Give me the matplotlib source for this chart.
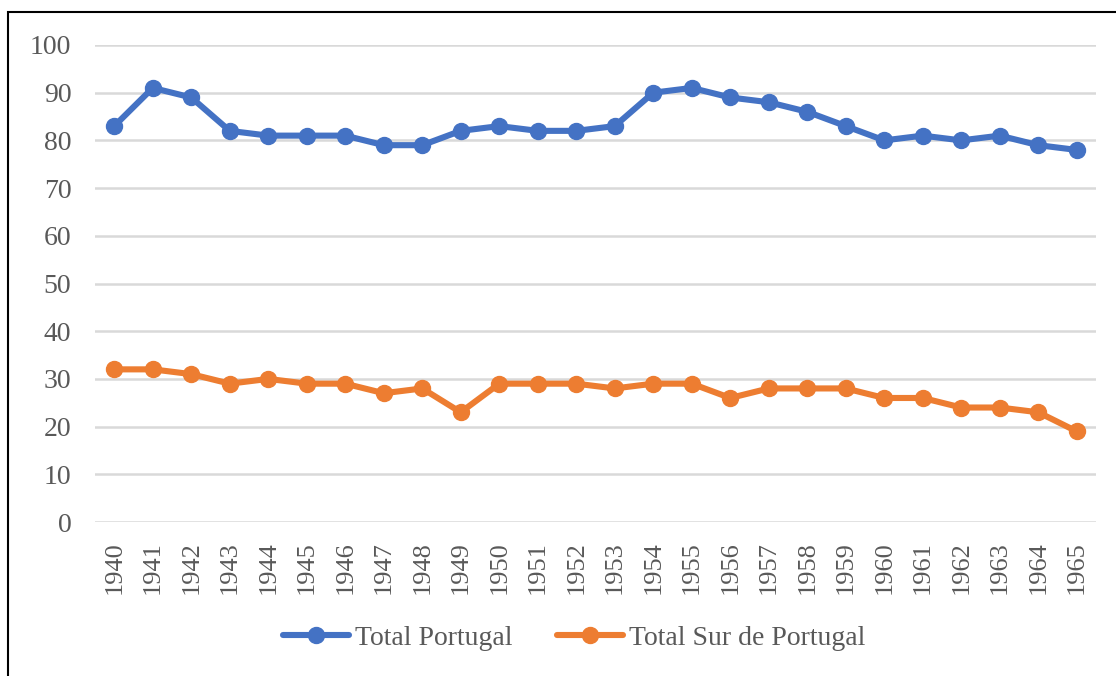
import matplotlib.pyplot as plt
from matplotlib.patches import Rectangle

years = list(range(1940, 1966))
total_portugal = [83, 91, 89, 82, 81, 81, 81, 79, 79, 82, 83, 82, 82, 83,
                  90, 91, 89, 88, 86, 83, 80, 81, 80, 81, 79, 78]
total_sur = [32, 32, 31, 29, 30, 29, 29, 27, 28, 23, 29, 29, 29, 28,
             29, 29, 26, 28, 28, 28, 26, 26, 24, 24, 23, 19]
y_ticks = list(range(0, 101, 10))

plt.rcParams['font.family'] = ['Liberation Serif', 'DejaVu Serif']

fig = plt.figure(figsize=(11.16, 6.76), dpi=100)
ax = fig.add_axes([95 / 1116, 1 - 522 / 676, (1096 - 95) / 1116, (522 - 45) / 676])

x = list(range(len(years)))
ax.plot(x, total_portugal, color='#4472C4', linewidth=4.4, marker='o',
        markersize=11.5, label='Total Portugal', solid_capstyle='round', zorder=3)
ax.plot(x, total_sur, color='#ED7D31', linewidth=4.4, marker='o',
        markersize=11.5, label='Total Sur de Portugal', solid_capstyle='round', zorder=3)

ax.set_xlim(-0.5, len(years) - 0.5)
ax.set_ylim(0, 100)
ax.set_yticks(y_ticks)
ax.set_xticks(x)
ax.set_xticklabels([str(y) for y in years], rotation=90)
ax.yaxis.grid(True, color='#d9d9d9', linewidth=1.8)
ax.set_axisbelow(True)
for s in ax.spines.values():
    s.set_visible(False)
ax.tick_params(axis='both', length=0, labelsize=19, colors='#595959')
ax.tick_params(axis='y', labelsize=20, pad=17)
ax.tick_params(axis='x', pad=14)

leg = fig.legend(loc='center', bbox_to_anchor=(574 / 1116, 1 - 638 / 676),
                 ncol=2, frameon=False, fontsize=20, handlelength=2.4,
                 handletextpad=0.2, columnspacing=1.6)
for t in leg.get_texts():
    t.set_color('#595959')

# chart frame (top and left edges visible only)
fig.patches.append(Rectangle((8 / 1116, -0.1), 1.2, 1 - 12 / 676 + 0.1,
                             transform=fig.transFigure, fill=False,
                             edgecolor='black', linewidth=1.5))

fig.savefig('out.png', dpi=100)
